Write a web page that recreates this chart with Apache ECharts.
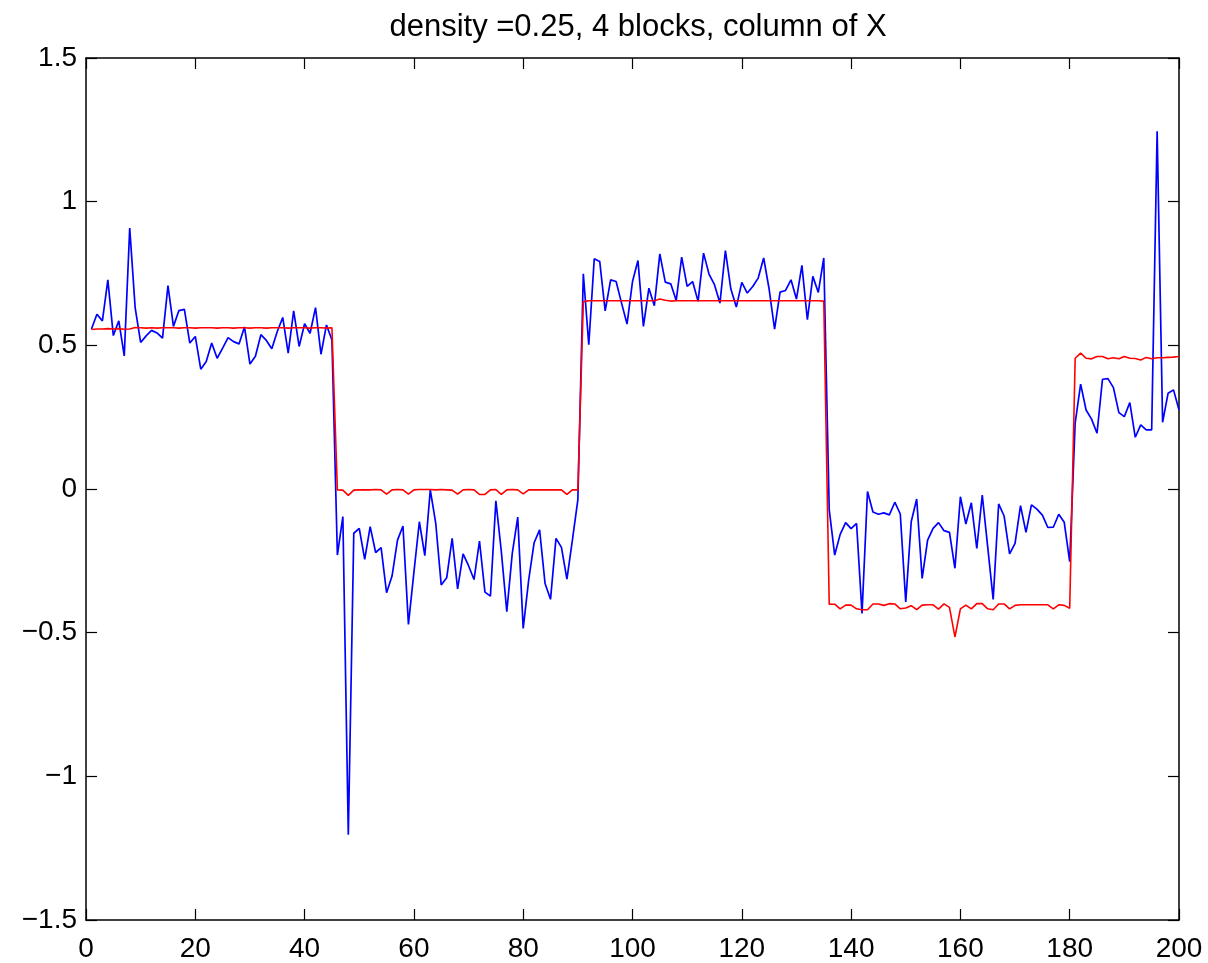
<!DOCTYPE html>
<html>
<head>
<meta charset="utf-8">
<script src="https://cdn.jsdelivr.net/npm/echarts@6/dist/echarts.min.js"></script>
<style>
html,body{margin:0;padding:0;background:#fff;}
#c{width:1208px;height:963px;}
</style>
</head>
<body>
<div id="c"></div>
<script>
var titleText = 'density =0.25, 4 blocks, column of X';
var xTicks = [0, 20, 40, 60, 80, 100, 120, 140, 160, 180, 200];
var yTicks = [-1.5, -1, -0.5, 0, 0.5, 1, 1.5];

// estimated column of X (blue), blocks of 45,45,45,45,20 samples
var est1 = [0.557,0.608,0.585,0.728,0.534,0.585,0.463,0.908,0.63,0.51,0.533,0.552,0.543,0.525,0.708,0.566,0.621,0.625,0.508,0.531,0.417,0.444,0.508,0.455,0.49,0.527,0.513,0.505,0.564,0.435,0.462,0.537,0.517,0.488,0.548,0.597,0.473,0.62,0.496,0.575,0.542,0.631,0.469,0.571,0.519];
var est2 = [-0.23,-0.096,-1.203,-0.154,-0.137,-0.245,-0.131,-0.221,-0.204,-0.361,-0.303,-0.178,-0.129,-0.471,-0.29,-0.114,-0.232,-0.003,-0.12,-0.334,-0.309,-0.172,-0.348,-0.226,-0.267,-0.315,-0.181,-0.359,-0.373,-0.041,-0.218,-0.427,-0.224,-0.098,-0.485,-0.317,-0.187,-0.142,-0.329,-0.384,-0.172,-0.203,-0.314,-0.178,-0.038];
var est3 = [0.749,0.502,0.801,0.792,0.62,0.728,0.722,0.647,0.574,0.722,0.795,0.566,0.699,0.638,0.818,0.72,0.714,0.656,0.807,0.705,0.722,0.653,0.821,0.748,0.711,0.647,0.83,0.696,0.633,0.719,0.682,0.705,0.734,0.804,0.696,0.556,0.685,0.691,0.728,0.661,0.778,0.589,0.74,0.684,0.804];
var est4 = [-0.073,-0.23,-0.158,-0.117,-0.138,-0.12,-0.433,-0.009,-0.08,-0.088,-0.083,-0.09,-0.046,-0.087,-0.393,-0.114,-0.035,-0.311,-0.178,-0.137,-0.117,-0.145,-0.151,-0.276,-0.027,-0.122,-0.048,-0.207,-0.021,-0.202,-0.384,-0.052,-0.094,-0.226,-0.189,-0.058,-0.151,-0.055,-0.07,-0.091,-0.134,-0.133,-0.088,-0.116,-0.253];
var est5 = [0.229,0.365,0.275,0.243,0.194,0.382,0.384,0.353,0.266,0.252,0.301,0.18,0.223,0.206,0.206,1.245,0.232,0.333,0.345,0.275];

// true column of X (red)
var true1 = [0.555,0.557,0.557,0.558,0.557,0.558,0.556,0.557,0.562,0.561,0.560,0.561,0.560,0.561,0.561,0.561,0.560,0.561,0.561,0.560,0.561,0.561,0.561,0.560,0.561,0.561,0.560,0.561,0.561,0.560,0.561,0.561,0.560,0.561,0.561,0.561,0.560,0.561,0.561,0.561,0.560,0.561,0.561,0.560,0.561];
var true2 = [-0.003,-0.004,-0.022,-0.004,-0.003,-0.003,-0.003,-0.002,-0.003,-0.018,-0.003,-0.002,-0.003,-0.018,-0.003,-0.002,-0.002,-0.002,-0.003,-0.002,-0.003,-0.004,-0.018,-0.003,-0.002,-0.003,-0.019,-0.019,-0.003,-0.002,-0.019,-0.003,-0.002,-0.003,-0.017,-0.003,-0.003,-0.003,-0.003,-0.003,-0.003,-0.003,-0.019,-0.003,-0.003];
var true3 = [0.652,0.655,0.655,0.655,0.655,0.655,0.655,0.655,0.655,0.655,0.655,0.655,0.655,0.655,0.661,0.657,0.654,0.655,0.655,0.655,0.655,0.655,0.655,0.655,0.655,0.655,0.655,0.655,0.655,0.655,0.655,0.655,0.655,0.655,0.655,0.655,0.655,0.655,0.655,0.655,0.655,0.655,0.655,0.655,0.654];
var true4 = [-0.401,-0.401,-0.417,-0.404,-0.404,-0.417,-0.42,-0.42,-0.40,-0.40,-0.405,-0.399,-0.40,-0.417,-0.414,-0.406,-0.42,-0.404,-0.403,-0.403,-0.418,-0.40,-0.412,-0.515,-0.417,-0.404,-0.417,-0.399,-0.399,-0.417,-0.42,-0.40,-0.40,-0.417,-0.405,-0.403,-0.403,-0.403,-0.403,-0.403,-0.403,-0.417,-0.403,-0.405,-0.415];
var true5 = [0.455,0.473,0.455,0.453,0.461,0.461,0.453,0.457,0.453,0.461,0.455,0.454,0.449,0.458,0.453,0.457,0.457,0.458,0.459,0.461];

var estValues = est1.concat(est2, est3, est4, est5);
var trueValues = true1.concat(true2, true3, true4, true5);
function pairs(arr){ return arr.map(function(v,i){ return [i+1, v]; }); }

var FONT = '"Liberation Sans", Arial, Helvetica, sans-serif';
var axisLineStyle = {color:'#000', width:1.5};
function fmt(v){ return String(v).replace('-', '\u2212'); }

var chart = echarts.init(document.getElementById('c'), null, {renderer:'canvas'});
chart.setOption({
  animation:false,
  backgroundColor:'#fff',
  title:{
    text:titleText, left:633, top:7, textAlign:'center',
    textStyle:{fontFamily:FONT, fontSize:31, fontWeight:'normal', color:'#000'}
  },
  grid:{left:86, right:29, top:58, bottom:42},
  xAxis:[{
    type:'value', min:0, max:200, interval:20, position:'bottom',
    axisLine:{show:true, onZero:false, lineStyle:axisLineStyle},
    axisTick:{show:true, inside:true, length:11, lineStyle:{color:'#000', width:1.2}},
    axisLabel:{show:true, fontFamily:FONT, fontSize:28, color:'#000', margin:15, formatter:fmt},
    splitLine:{show:false}
  },{
    type:'value', min:0, max:200, interval:20, position:'top',
    axisLine:{show:true, onZero:false, lineStyle:axisLineStyle},
    axisTick:{show:true, inside:true, length:11, lineStyle:{color:'#000', width:1.2}},
    axisLabel:{show:false},
    splitLine:{show:false}
  }],
  yAxis:[{
    type:'value', min:-1.5, max:1.5, interval:0.5, position:'left',
    axisLine:{show:true, onZero:false, lineStyle:axisLineStyle},
    axisTick:{show:true, inside:true, length:11, lineStyle:{color:'#000', width:1.2}},
    axisLabel:{show:true, fontFamily:FONT, fontSize:28, color:'#000', margin:9, formatter:fmt},
    splitLine:{show:false}
  },{
    type:'value', min:-1.5, max:1.5, interval:0.5, position:'right',
    axisLine:{show:true, onZero:false, lineStyle:axisLineStyle},
    axisTick:{show:true, inside:true, length:11, lineStyle:{color:'#000', width:1.2}},
    axisLabel:{show:false},
    splitLine:{show:false}
  }],
  series:[{
    type:'line', xAxisIndex:0, yAxisIndex:0, data:pairs(estValues),
    showSymbol:false, symbol:'none', lineStyle:{color:'#0000ff', width:1.7}, itemStyle:{color:'#0000ff'}
  },{
    type:'line', xAxisIndex:0, yAxisIndex:0, data:pairs(trueValues),
    showSymbol:false, symbol:'none', lineStyle:{color:'#ff0000', width:1.6}, itemStyle:{color:'#ff0000'}
  }]
});
</script>
</body>
</html>
